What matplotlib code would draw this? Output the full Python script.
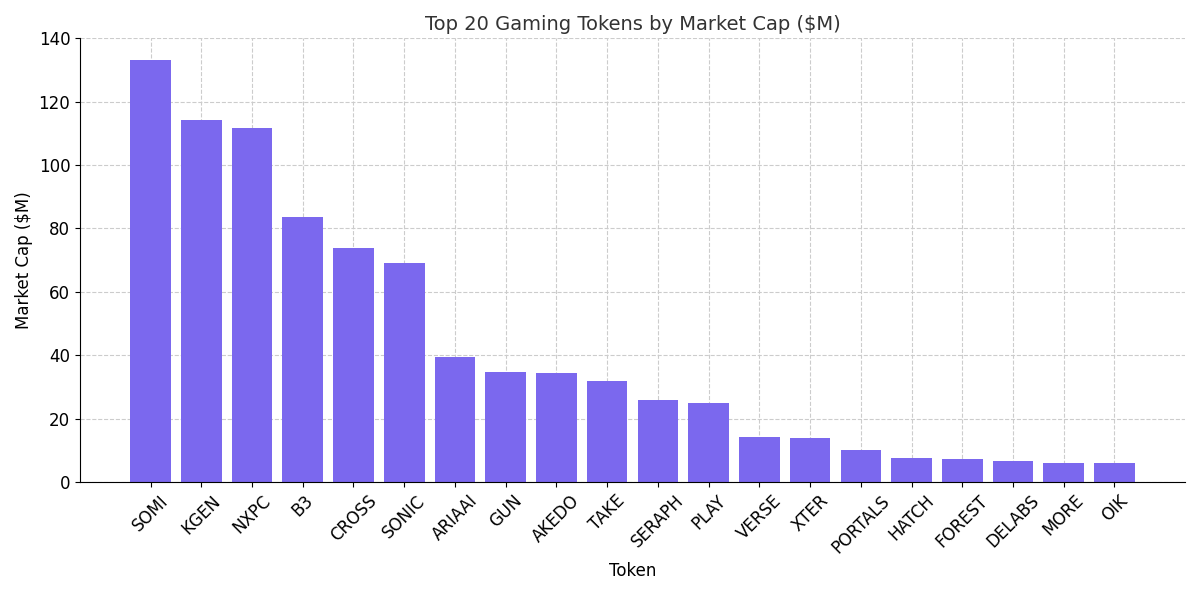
import matplotlib
matplotlib.use("Agg")
import matplotlib.pyplot as plt

tokens = ["SOMI","KGEN","NXPC","B3","CROSS","SONIC","ARIAAI","GUN","AKEDO","TAKE",
          "SERAPH","PLAY","VERSE","XTER","PORTALS","HATCH","FOREST","DELABS","MORE","OIK"]
market_cap = [133.1,114.3,111.8,83.6,73.8,69.2,39.4,34.6,34.5,31.7,
              26.0,25.0,14.2,13.9,10.2,7.6,7.1,6.7,5.9,5.9]

fig, ax = plt.subplots(figsize=(12, 5.95), dpi=100)
ax.bar(tokens, market_cap, color="#7B68EE", zorder=2)
ax.set_title("Top 20 Gaming Tokens by Market Cap ($M)", fontsize=14, color="#333333")
ax.set_xlabel("Token", fontsize=12)
ax.set_ylabel("Market Cap ($M)", fontsize=12)
ax.tick_params(axis="x", labelrotation=45, labelsize=12)
ax.tick_params(axis="y", labelsize=12)
ax.grid(True, linestyle="--", color="#cccccc", linewidth=0.8, zorder=0)
ax.spines["top"].set_visible(False)
ax.spines["right"].set_visible(False)
ax.set_ylim(0, 140)
fig.tight_layout()
fig.savefig("out.png")
